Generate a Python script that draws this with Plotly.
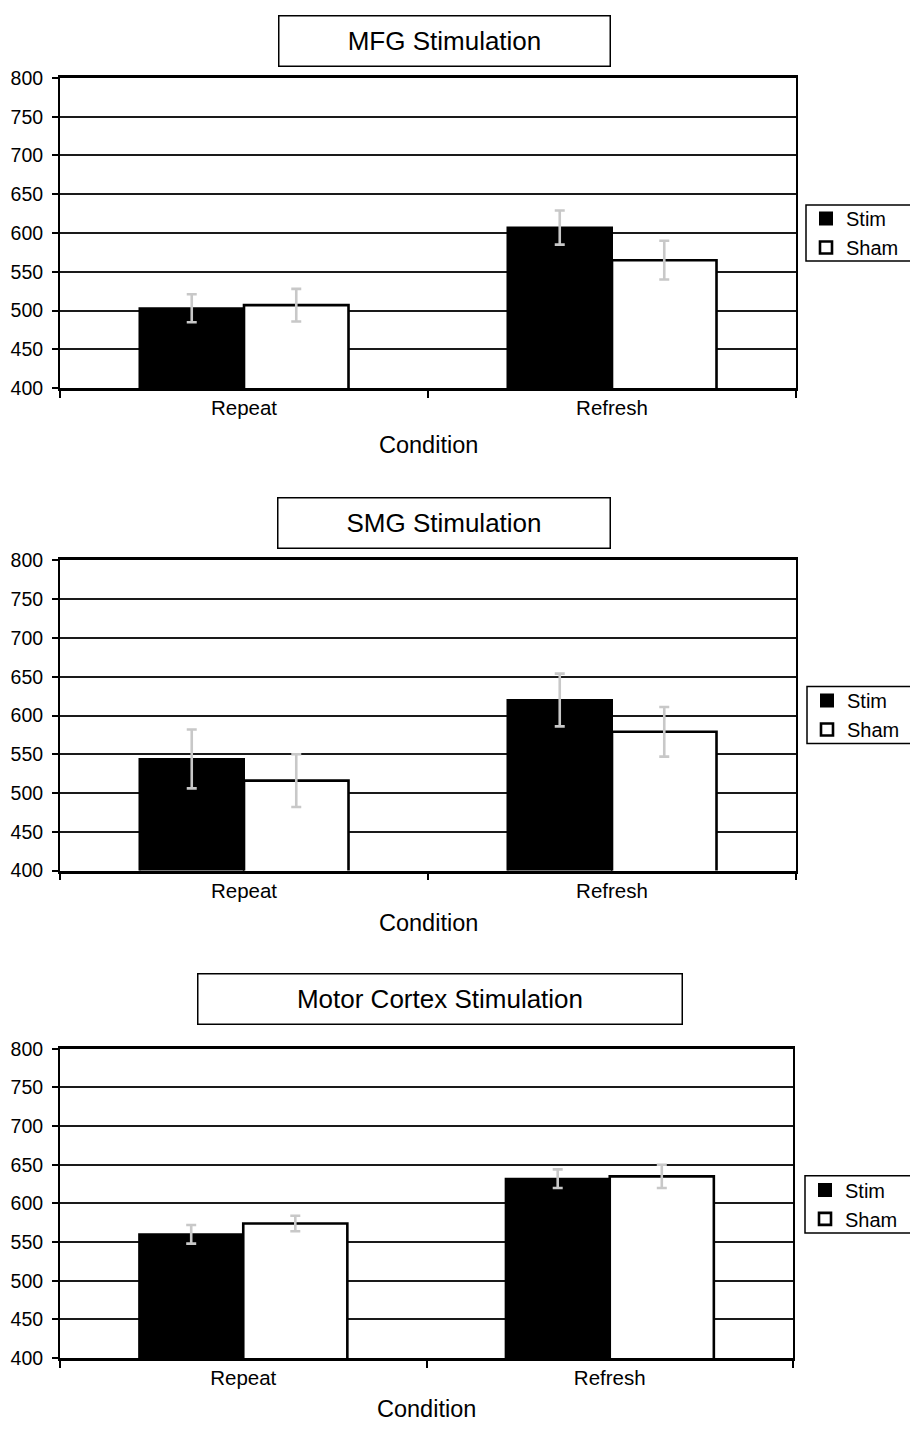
import plotly.graph_objects as go

W, H = 910, 1432
FONT = "Liberation Sans, Arial, Helvetica, sans-serif"

# ---------------- data ----------------
conditions = ["Repeat", "Refresh"]
series_names = ["Stim", "Sham"]
panel_titles = ["MFG Stimulation", "SMG Stimulation", "Motor Cortex Stimulation"]
x_title = "Condition"

mfg_stim = [503, 607]
mfg_stim_err = [18, 22]
mfg_sham = [507, 565]
mfg_sham_err = [21, 25]

smg_stim = [544, 620]
smg_stim_err = [38, 34]
smg_sham = [516, 579]
smg_sham_err = [34, 32]

motor_stim = [560, 632]
motor_stim_err = [12, 12]
motor_sham = [574, 635]
motor_sham_err = [10, 15]

y_range = [400, 800]
y_ticks = [400, 450, 500, 550, 600, 650, 700, 750, 800]

panels_data = [
    (mfg_stim, mfg_stim_err, mfg_sham, mfg_sham_err),
    (smg_stim, smg_stim_err, smg_sham, smg_sham_err),
    (motor_stim, motor_stim_err, motor_sham, motor_sham_err),
]

# ---------------- layout geometry (pixels) ----------------
plot_boxes = [(60, 68, 796, 383), (60, 558, 796, 873), (60, 1054, 793, 1368)]
title_boxes = [(278, 5, 610, 56), (277, 494, 610, 545), (197, 978, 682, 1029)]
legend_boxes = [(806, 197, 914, 254), (807, 686, 914, 744), (805, 1183, 914, 1241)]
cond_y = [441, 926, 1420]


def px_x(x):
    return x / W


def px_y(y):
    return 1 - y / H


fig = go.Figure()
annotations = []
shapes = []
legend_keys = ["legend", "legend2", "legend3"]

for i, (stim, stim_err, sham, sham_err) in enumerate(panels_data):
    n = "" if i == 0 else str(i + 1)
    xa, ya = "x" + n, "y" + n
    fills = ["black", "white"]
    lws = [2, 2.6]
    for j, (vals, errs) in enumerate([(stim, stim_err), (sham, sham_err)]):
        fig.add_trace(go.Bar(
            x=conditions, y=vals, name=series_names[j],
            xaxis=xa, yaxis=ya, legend=legend_keys[i],
            marker=dict(color=fills[j], line=dict(color="black", width=lws[j])),
            error_y=dict(type="data", array=errs, visible=True,
                         color="#c8c8c8", thickness=2.6, width=5),
        ))
    l, t, r, b = plot_boxes[i]
    axis_common = dict(showline=True, linecolor="black", mirror=True)
    fig.layout["xaxis" + n] = dict(
        domain=[px_x(l), px_x(r)], anchor=ya, type="category",
        range=[-0.5, 1.5], tickson="boundaries", ticks="outside",
        ticklen=7, tickwidth=1.5, tickcolor="black", linewidth=2.5,
        showgrid=False, tickfont=dict(size=20.5, color="black", family=FONT),
        **axis_common,
    )
    fig.layout["yaxis" + n] = dict(
        domain=[px_y(b), px_y(t)], anchor=xa, range=y_range,
        tickvals=y_ticks, ticks="outside", ticklen=6, tickwidth=1.5,
        tickcolor="black", linewidth=2, showgrid=True, gridcolor="#1a1a1a",
        gridwidth=1.5, zeroline=False, ticklabelstandoff=5,
        tickfont=dict(size=19.5, color="black", family=FONT),
        **axis_common,
    )
    bl, bt, br, bb = legend_boxes[i]
    fig.layout[legend_keys[i]] = dict(
        x=px_x(bl), y=px_y((bt + bb) / 2), xanchor="left", yanchor="middle",
        borderwidth=0, bgcolor="rgba(0,0,0,0)",
        font=dict(size=20, color="black", family=FONT),
        tracegroupgap=0, traceorder="normal",
    )
    shapes.append(dict(
        type="rect", xref="paper", yref="paper",
        x0=px_x(bl), x1=px_x(br), y0=px_y(bb), y1=px_y(bt),
        line=dict(color="black", width=1.5), fillcolor="white", layer="below",
    ))
    tl, tt, tr, tb = title_boxes[i]
    annotations.append(dict(
        text=panel_titles[i], xref="paper", yref="paper",
        x=px_x((tl + tr) / 2), y=px_y((tt + tb) / 2),
        xanchor="center", yanchor="middle", showarrow=False,
        width=tr - tl - 2, height=tb - tt - 2, borderpad=0,
        bordercolor="black", borderwidth=1.5, bgcolor="white",
        font=dict(size=26, color="black", family=FONT),
    ))
    annotations.append(dict(
        text=x_title, xref="paper", yref="paper",
        x=px_x((l + r) / 2), y=px_y(cond_y[i]),
        xanchor="center", yanchor="middle", showarrow=False,
        font=dict(size=23.5, color="black", family=FONT),
    ))

fig.update_layout(
    width=W, height=H, margin=dict(l=0, r=0, t=0, b=0),
    paper_bgcolor="white", plot_bgcolor="white",
    barmode="group", bargap=0.432, bargroupgap=0,
    annotations=annotations, shapes=shapes,
    font=dict(family=FONT, color="black"),
)

fig.write_html(
    "out.html",
    config={"displayModeBar": False},
    post_script=(
        "document.documentElement.style.margin='0';"
        "document.body.style.margin='0';"
        "document.body.style.overflow='hidden';"
        "var gd=document.getElementById('{plot_id}');"
        "gd.style.position='fixed';gd.style.top='0px';gd.style.left='0px';"
    ),
)
